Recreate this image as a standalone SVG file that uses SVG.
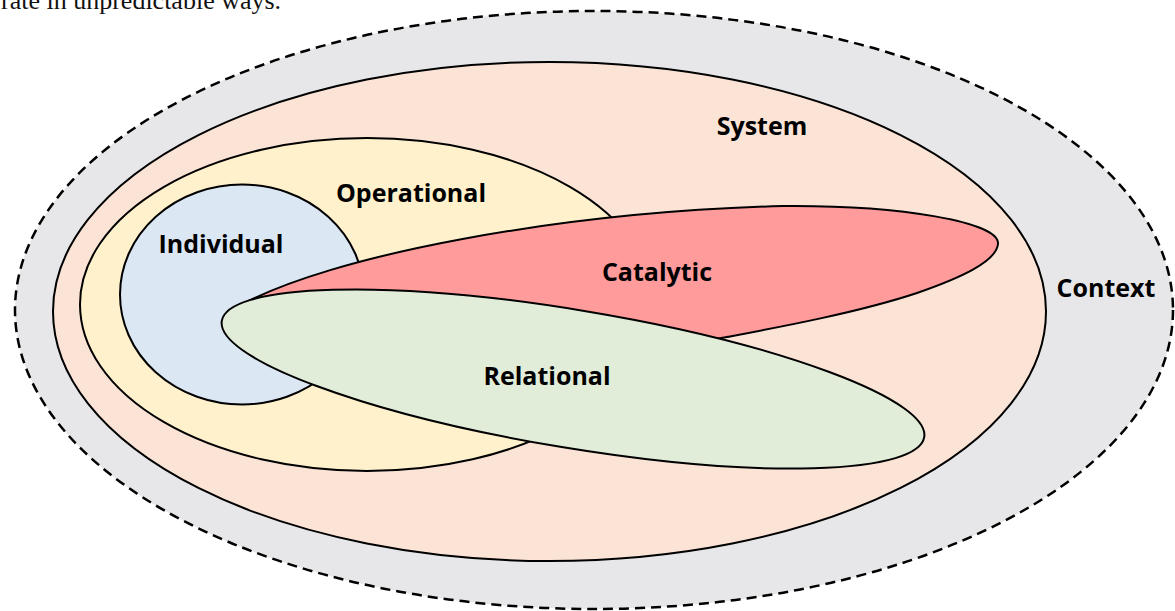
<svg xmlns="http://www.w3.org/2000/svg" width="1175" height="611" viewBox="0 0 1175 611">
<style>
.shape{stroke:#000;stroke-width:2}
.lbl{font-family:"Open Sans","Liberation Sans",sans-serif;font-weight:bold;font-size:25px;fill:#000;text-anchor:middle}
.cap{font-family:"Liberation Serif","DejaVu Serif",serif;font-size:26px;fill:#111}
</style>
<rect x="0" y="0" width="1175" height="611" fill="#fff"/>
<text class="cap" x="1" y="9">rate in unpredictable ways.</text>
<g id="context">
<ellipse cx="594" cy="310" rx="579" ry="299" fill="#E7E6E8" stroke="#000" stroke-width="2.5" stroke-dasharray="10 6"/>
<text class="lbl" x="1106" y="297">Context</text>
</g>
<g id="system">
<ellipse class="shape" cx="549.5" cy="311.5" rx="496.5" ry="249.5" fill="#FBE4D6"/>
<text class="lbl" x="762" y="135">System</text>
</g>
<g id="operational">
<ellipse class="shape" cx="367" cy="304.5" rx="287" ry="166.5" fill="#FFF1CC"/>
<text class="lbl" x="411" y="202">Operational</text>
</g>
<g id="individual">
<ellipse class="shape" cx="242" cy="294.5" rx="122" ry="110" fill="#DCE7F4"/>
<text class="lbl" x="221" y="253">Individual</text>
</g>
<g id="catalytic">
<path class="shape" fill="#FF9B9B" d="M237,307 C330,255 560,212 783,206 C900,205 1000,222 998,244 C996,262 960,278 917,293 C860,312 780,327 727,337 C600,362 320,330 237,307 Z"/>
<text class="lbl" x="657" y="281">Catalytic</text>
</g>
<g id="relational">
<ellipse class="shape" cx="573" cy="379" rx="356" ry="69" transform="rotate(9.4 573 379)" fill="#E1EDD8"/>
<text class="lbl" x="547" y="385">Relational</text>
</g>
<g id="connectors"></g>
</svg>
